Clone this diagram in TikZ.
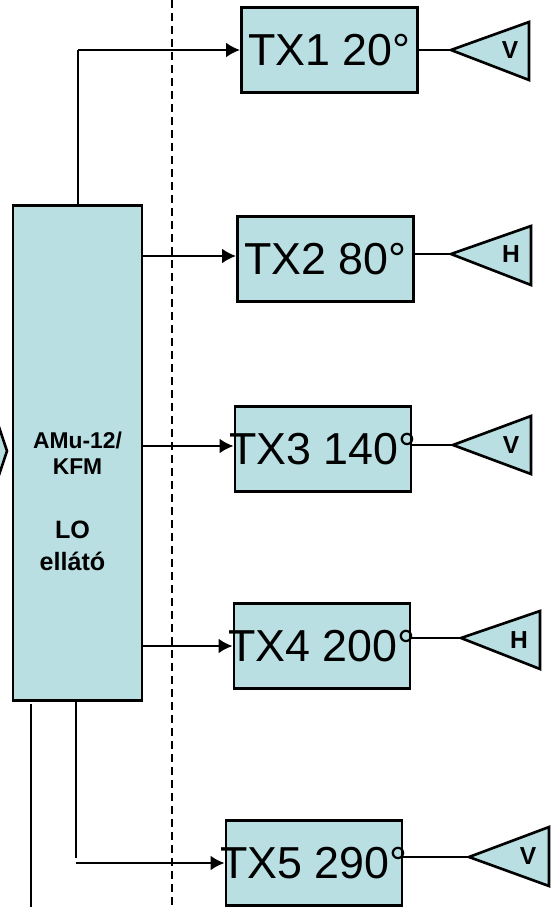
\documentclass[tikz,border=0pt]{standalone}
\usepackage{fontspec}
\setmainfont{Liberation Sans}
\usetikzlibrary{arrows.meta}
\tikzset{>={Latex[length=8pt,width=8.5pt]}}
\definecolor{mycyan}{RGB}{185, 223, 227}
\tikzset{txbox/.style={draw, fill = mycyan, line width = 1.5pt, minimum width = 100.3pt, minimum height = 48.3pt, inner ysep = 0pt, inner xsep = -15pt, font = \fontsize{25.5}{25.5}\selectfont},
  antenna/.style={draw, fill = mycyan, line width = 1.5pt, line join = miter},
  wire/.style={line width = 1.3pt},
  pol/.style={inner sep = 0pt, font = \fontsize{14}{14}\selectfont\bfseries}}

\begin{document}
\begin{tikzpicture}[x = 0.02cm, y = -0.02cm]
\useasboundingbox (0,0) rectangle (551,907);
\clip (0,0) rectangle (551,907);
\draw[line width = 1.3pt, dash pattern = on 4.6pt off 2.8pt] (172,0) -- (172,907);
\draw[antenna] (-6,412) -- (7,451) -- (-6,490);
\node[draw, fill = mycyan, line width = 1.5pt, minimum width = 73.3pt, minimum height = 282pt, inner sep = 0pt] (amu) at (77.5,453) {};
\node[align = center, inner sep = 0pt, font = \fontsize{13}{15}\selectfont\bfseries] (amutext) at (77.5,453) {AMu-12/\\KFM};
\node[align = center, inner sep = 0pt, font = \fontsize{14.3}{18}\selectfont\bfseries] (lotext) at (72.5,546) {LO\\ellátó};
\node[txbox] (tx1) at (329.5,50) {TX1 20°};
\node[txbox] (tx2) at (325.5,259) {TX2 80°};
\node[txbox] (tx3) at (323,449) {TX3 140°};
\node[txbox] (tx4) at (322,646) {TX4 200°};
\node[txbox] (tx5) at (314,863) {TX5 290°};
% outputs of the LO box
\coordinate (top1) at (78,205);
\coordinate (bend1) at (78,50);
\coordinate (out2) at (142,256);
\coordinate (out3) at (142,446);
\coordinate (out4) at (142,646);
\coordinate (bot5) at (76,701);
\coordinate (bend5) at (76,858);
\coordinate (start5) at (76,863);
\coordinate (left0) at (31,704);
\coordinate (left1) at (31,907);
\draw[wire] (top1) -- (bend1);
\draw[->, wire] (bend1) -- (tx1.west);
\draw[->, wire] (out2) -- (tx2.west |- out2);
\draw[->, wire] (out3) -- (tx3.west |- out3);
\draw[->, wire] (out4) -- (tx4.west |- out4);
\draw[wire] (bot5) -- (bend5);
\draw[->, wire] (start5) -- (tx5.west);
\draw[wire] (left0) -- (left1);
% antennas
\coordinate (ant1) at (451,50);
\coordinate (ant2) at (451,254);
\coordinate (ant3) at (453,445);
\coordinate (ant4) at (461,638);
\coordinate (ant5) at (469,857);
\draw[wire] (tx1.east) -- (ant1);
\draw[wire] (tx2.east |- ant2) -- (ant2);
\draw[wire] (tx3.east |- ant3) -- (ant3);
\draw[wire] (tx4.east |- ant4) -- (ant4);
\draw[wire] (tx5.east |- ant5) -- (ant5);
\draw[antenna] (ant1) -- ++(78,-28) -- ++(0,58) -- cycle;
\draw[antenna] (ant2) -- ++(80,-28) -- ++(0,59) -- cycle;
\draw[antenna] (ant3) -- ++(78,-29) -- ++(0,58) -- cycle;
\draw[antenna] (ant4) -- ++(79,-27) -- ++(0,58) -- cycle;
\draw[antenna] (ant5) -- ++(80,-30) -- ++(0,59) -- cycle;
\node[pol] (pol1) at (510,50) {V};
\node[pol] (pol2) at (511,254) {H};
\node[pol] (pol3) at (511,445) {V};
\node[pol] (pol4) at (519,640) {H};
\node[pol] (pol5) at (528,856) {V};
\end{tikzpicture}
\end{document}
